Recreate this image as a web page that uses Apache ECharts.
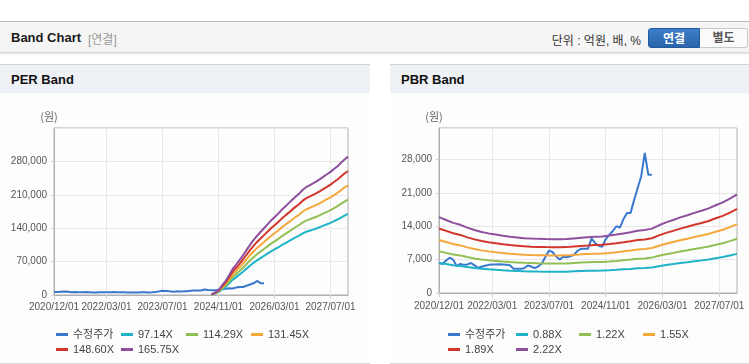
<!DOCTYPE html>
<html><head><meta charset="utf-8">
<script src="https://cdn.jsdelivr.net/npm/echarts@6/dist/echarts.min.js"></script>
<style>
body{margin:0;width:749px;height:364px;position:relative;overflow:hidden;background:#fff;font-family:'Liberation Sans','Noto Sans CJK KR',Arial,sans-serif;}
.abs{position:absolute;}
#topline{left:0;top:21px;width:749px;height:1px;background:#bdbdbd;}
#header{left:0;top:22px;width:749px;height:30px;background:#f5f5f5;border-bottom:1px solid #d6d6d6;box-shadow:0 1px 2px rgba(0,0,0,0.12);}
#htitle{left:11px;top:8px;font-size:13px;font-weight:bold;color:#1a1a1a;white-space:nowrap;}
#hsub{left:88px;top:8px;font-size:12px;color:#999;white-space:nowrap;}
#unit{right:108px;top:9px;font-size:12px;color:#333;white-space:nowrap;}
#b1{left:648px;top:6px;width:52px;height:20px;background:linear-gradient(#3b7fca,#2a64ab);border:1px solid #245a9c;border-radius:3px 0 0 3px;color:#fff;font-weight:bold;font-size:12px;text-align:center;line-height:20px;box-sizing:border-box;}
#b2{left:700px;top:6px;width:48px;height:20px;background:#fbfbfb;border:1px solid #c8c8c8;border-left:none;border-radius:0 3px 3px 0;color:#555;font-weight:bold;font-size:12px;text-align:center;line-height:18px;box-sizing:border-box;}
.panel{top:64px;height:298px;background:#fdfdfd;border-top:1px solid #d3d3d3;border-bottom:1px solid #d8d8d8;}
.ptitle{left:0;top:0;width:100%;height:28px;background:#eef1f6;}
.ptitle span{position:absolute;left:11px;top:7px;font-size:13px;font-weight:bold;color:#111;}
.chart{left:0;top:28px;width:100%;height:270px;}
</style></head>
<body>
<div id="topline" class="abs"></div>
<div id="header" class="abs">
  <div id="htitle" class="abs">Band Chart</div>
  <div id="hsub" class="abs">[연결]</div>
  <div id="unit" class="abs">단위 : 억원, 배, %</div>
  <div id="b1" class="abs">연결</div>
  <div id="b2" class="abs">별도</div>
</div>
<div class="panel abs" style="left:0;width:370px;">
  <div class="ptitle abs"><span>PER Band</span></div>
  <div id="per" class="chart abs"></div>
</div>
<div class="panel abs" style="left:390px;width:359px;">
  <div class="ptitle abs"><span style="left:11px">PBR Band</span></div>
  <div id="pbr" class="chart abs"></div>
</div>
<script>
// ---- categories (monthly, 2020/12/01 .. 2027/12/01) ----
const months = [];
for (let i = 0; i < 85; i++) {
  const y = 2020 + Math.floor((11 + i) / 12);
  const mo = (11 + i) % 12 + 1;
  months.push(y + '/' + String(mo).padStart(2, '0') + '/01');
}
const tickLabels = ['2020/12/01','2022/03/01','2023/07/01','2024/11/01','2026/03/01','2027/07/01'];

// ---- adjusted price (monthly from 2020/12) ----
const price = [6300,6100,6800,7400,7000,5600,6100,5900,6000,6300,
  5800,5300,5500,5700,5900,6000,6000,6050,6000,5900,
  5800,5100,5100,5100,5200,5750,5550,5200,5600,6200,
  7600,8900,8600,7700,7000,7600,7500,7700,8000,8800,
  9280,9280,9300,11400,10500,9900,9700,11300,12200,13000,
  14000,13700,15500,16800,16800,19500,22000,24500,29400,24800,24800];

// ---- PER bands (monthly, starting 2024/09/01 = index 45) ----
const perStart = 45;
const per1 = [900,2900,5900,11700,17000,24000,31600,36900,42800,48600,55100,61500,67400,72700,77400,82100,86700,91400,95500,99600,104300,108400,112500,116600,120700,124300,128900,132500,134800,137100,139500,142400,145400,148300,151200,154700,158200,162400,166500,170000];
const per2 = [1000,3400,6900,13800,20000,28300,37200,43400,50300,57200,64800,72400,79300,85500,91000,96500,102000,107600,112400,117200,122700,127600,132400,137200,142000,146200,151700,155800,158600,161300,164100,167500,171000,174400,177900,182000,186200,191000,195800,200000];
const per3 = [1200,4000,7900,15900,23000,32500,42800,50000,57900,65800,74600,83300,91200,98300,104700,111000,117400,123700,129300,134800,141200,146700,152300,157800,163400,168100,174500,179200,182400,185600,188800,192700,196700,200700,204600,209400,214100,219700,225200,230000];
const per4 = [1300,4500,9000,17900,26000,36800,48400,56500,65400,74400,84300,94100,103100,111200,118300,125500,132700,139900,146100,152400,159600,165900,172100,178400,184700,190100,197200,202600,206200,209800,213400,217900,222300,226800,231300,236700,242100,248300,254600,260000];
const per5 = [1500,5000,10000,20000,29000,41000,54000,63000,73000,83000,94000,105000,115000,124000,132000,140000,148000,156000,163000,170000,178000,185000,192000,199000,206000,212000,220000,226000,230000,234000,238000,243000,248000,253000,258000,264000,270000,277000,284000,290000];
const perNames = ['수정주가','97.14X','114.29X','131.45X','148.60X','165.75X'];

// ---- PBR bands (every 2 months from 2020/12/01) ----
const pbr1 = [6300,6070,5830,5670,5430,5230,5070,4960,4860,4760,4680,4620,4560,4530,4500,4480,4470,4470,4480,4540,4600,4640,4680,4710,4780,4860,4960,5050,5170,5230,5350,5630,5870,6070,6280,6460,6660,6840,7040,7290,7530,7850,8210];
const pbr2 = [8740,8410,8080,7860,7530,7250,7030,6870,6730,6590,6480,6400,6320,6280,6240,6210,6200,6200,6210,6290,6370,6430,6480,6520,6620,6730,6870,7010,7170,7250,7420,7800,8130,8410,8710,8960,9230,9480,9750,10110,10440,10880,11380];
const pbr3 = [11100,10680,10260,9980,9570,9220,8940,8730,8550,8380,8240,8130,8030,7970,7930,7890,7880,7880,7890,7990,8100,8170,8240,8290,8410,8550,8730,8900,9110,9220,9430,9910,10330,10680,11070,11380,11730,12040,12390,12850,13270,13820,14450];
const pbr4 = [13540,13030,12520,12180,11660,11240,10900,10640,10430,10220,10050,9920,9790,9720,9660,9620,9600,9600,9620,9750,9880,9960,10050,10110,10260,10430,10640,10860,11110,11240,11490,12090,12600,13030,13500,13880,14300,14690,15110,15670,16180,16860,17620];
const pbr5 = [15900,15300,14700,14300,13700,13200,12800,12500,12250,12000,11800,11650,11500,11420,11350,11300,11280,11280,11300,11450,11600,11700,11800,11870,12050,12250,12500,12750,13050,13200,13500,14200,14800,15300,15850,16300,16800,17250,17750,18400,19000,19800,20700];
const pbrNames = ['수정주가','0.88X','1.22X','1.55X','1.89X','2.22X'];

const colors = ['#3a78cc','#1fb3c8','#92bf55','#f4a83a','#d1352b','#8e4f9d'];
const FONT = "'Liberation Sans',Arial,sans-serif";
const isTick = (idx, val) => tickLabels.indexOf(val) >= 0;

function makeOption(cfg) {
  const series = cfg.names.map((n, k) => ({
    name: n, type: 'line', showSymbol: false, symbol: 'none',
    data: cfg.data[k],
    lineStyle: { width: 2, color: colors[k] },
    itemStyle: { color: colors[k] },
    emphasis: { disabled: true },
    z: k === 0 ? 2 : 3
  }));
  return {
    animation: false,
    color: colors,
    grid: Object.assign({ show: true, borderColor: '#b0b0b0', borderWidth: 1, backgroundColor: 'transparent' }, cfg.grid),
    legend: {
      left: cfg.legendLeft, top: 229, width: 280, orient: 'horizontal',
      itemWidth: 12, itemHeight: 3, itemGap: 0, icon: 'rect',
      selectedMode: false,
      textStyle: { fontSize: 11, color: '#444', lineHeight: 15, fontFamily: "'Liberation Sans','Noto Sans CJK KR',sans-serif" },
      data: cfg.names.map((n, k) => ({ name: n, textStyle: { width: cfg.legendW[k] } }))
    },
    xAxis: {
      type: 'category', data: months, boundaryGap: false,
      axisLine: { lineStyle: { color: '#b0b0b0' } },
      axisTick: { show: true, interval: isTick, length: 4, lineStyle: { color: '#d0d0d0' } },
      axisLabel: { interval: isTick, showMinLabel: true, hideOverlap: false,
        color: '#555', fontSize: 10, margin: cfg.xMargin, fontFamily: FONT },
      splitLine: { show: true, interval: isTick, lineStyle: { color: '#e8e8e8' } }
    },
    yAxis: {
      type: 'value', min: 0, max: cfg.max, interval: cfg.step,
      name: '(원)', nameLocation: 'end', nameGap: 6,
      nameTextStyle: { color: '#666', fontSize: 11, align: 'center', padding: [0, 10, 0, 0], fontFamily: "'Noto Sans CJK KR',sans-serif" },
      axisLine: { show: true, lineStyle: { color: '#b0b0b0' } },
      axisTick: { show: true, length: 3, lineStyle: { color: '#d0d0d0' } },
      axisLabel: { color: '#555', fontSize: 10, margin: 7, showMinLabel: true, showMaxLabel: false, fontFamily: FONT,
        formatter: v => v.toLocaleString('en-US') },
      splitLine: { show: true, lineStyle: { color: '#e8e8e8' } }
    },
    series: series
  };
}

const perData = [price].concat([per1, per2, per3, per4, per5].map(a => a.map((v, i) => [months[perStart + i], v])));
const pbrData = [price].concat([pbr1, pbr2, pbr3, pbr4, pbr5].map(a => a.map((v, i) => [months[2 * i], v])));

const perChart = echarts.init(document.getElementById('per'));
perChart.setOption(makeOption({
  names: perNames, data: perData, max: 350000, step: 70000,
  grid: { left: 54, right: 22, top: 35, bottom: 68 },
  legendLeft: 51, legendW: [48, 48, 48, 48, 48, 48], xMargin: 7
}));
const pbrChart = echarts.init(document.getElementById('pbr'));
pbrChart.setOption(makeOption({
  names: pbrNames, data: pbrData, max: 34600, step: 7000,
  grid: { left: 49, right: 12, top: 35, bottom: 70 },
  legendLeft: 53, legendW: [51, 46, 47, 47, 51, 46], xMargin: 8
}));
</script>
</body></html>
